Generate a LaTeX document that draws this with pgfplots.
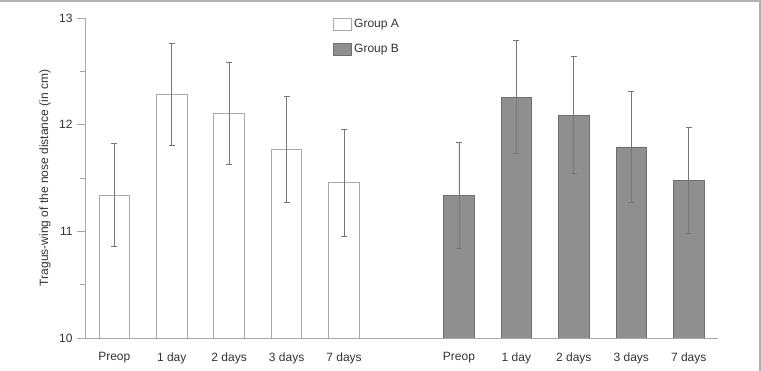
\documentclass[border=0pt]{standalone}
\usepackage{pgfplots}
\pgfplotsset{compat=1.18}
\usepackage{fontspec}
\setmainfont{Liberation Sans}
\definecolor{axgray}{HTML}{A8A8A8}
\definecolor{bargray}{HTML}{8F8F8F}
\definecolor{edgegray}{HTML}{6E6E6E}
\definecolor{errgray}{HTML}{777777}
\definecolor{txt}{HTML}{333333}
\begin{document}
\begin{tikzpicture}
\begin{axis}[
  scale only axis,
  width=633pt, height=320pt,
  xmin=-0.51, xmax=10.51,
  ymin=10, ymax=13,
  axis x line=bottom, axis y line=left,
  axis line style={draw=axgray, line width=0.8pt, -},
  xtick={0,1,2,3,4,6,7,8,9,10},
  xticklabels={Preop,1 day,2 days,3 days,7 days,Preop,1 day,2 days,3 days,7 days},
  x tick style={draw=none},
  ytick={10,11,12,13},
  minor y tick num=1,
  y tick style={draw=axgray, line width=0.8pt},
  tick align=outside,
  major tick length=8pt, minor tick length=5pt,
  /pgf/number format/assume math mode=true,
  ticklabel style={font=\fontsize{12}{14}\selectfont, text=txt},
  xticklabel style={yshift=-3pt},
  yticklabel style={xshift=-1pt},
  ylabel={Tragus-wing of the nose distance (in cm)},
  ylabel style={font=\fontsize{12}{14}\selectfont, text=txt, at={(axis description cs:-0.063,0.5)}, anchor=center},
  ybar, bar width=30.5pt, bar shift=0pt,
  legend style={draw=none, fill=none, at={(axis description cs:0.392,1.003)}, anchor=north west,
    font=\fontsize{12}{14}\selectfont, text=txt, row sep=11pt, inner sep=0pt,
    cells={anchor=west}},
  legend image code/.code={\draw[#1] (0pt,-6pt) rectangle (18pt,6pt);},
  error bars/error bar style={draw=errgray, line width=0.7pt},
  error bars/error mark options={rotate=90, mark size=3pt, draw=errgray, line width=0.7pt},
]
\addplot[draw=axgray, fill=white, line width=0.9pt,
  error bars/.cd, y dir=both, y explicit] table[x=x, y=y, y error=e] {
x y e
0 11.34 0.485
1 12.285 0.475
2 12.107 0.477
3 11.77 0.495
4 11.454 0.50
};
\addlegendentry{Group A}
\addplot[draw=edgegray, fill=bargray, line width=0.9pt,
  error bars/.cd, y dir=both, y explicit] table[x=x, y=y, y error=e] {
x y e
6 11.338 0.495
7 12.257 0.53
8 12.09 0.55
9 11.791 0.52
10 11.479 0.495
};
\addlegendentry{Group B}
\end{axis}
\draw[axgray!90, line width=1.6pt] (-85pt,337.2pt) -- (675.2pt,337.2pt) -- (675.2pt,-33pt);
\pgfresetboundingbox
\useasboundingbox (-85pt,-33pt) rectangle (676pt,338pt);
\end{tikzpicture}
\end{document}
